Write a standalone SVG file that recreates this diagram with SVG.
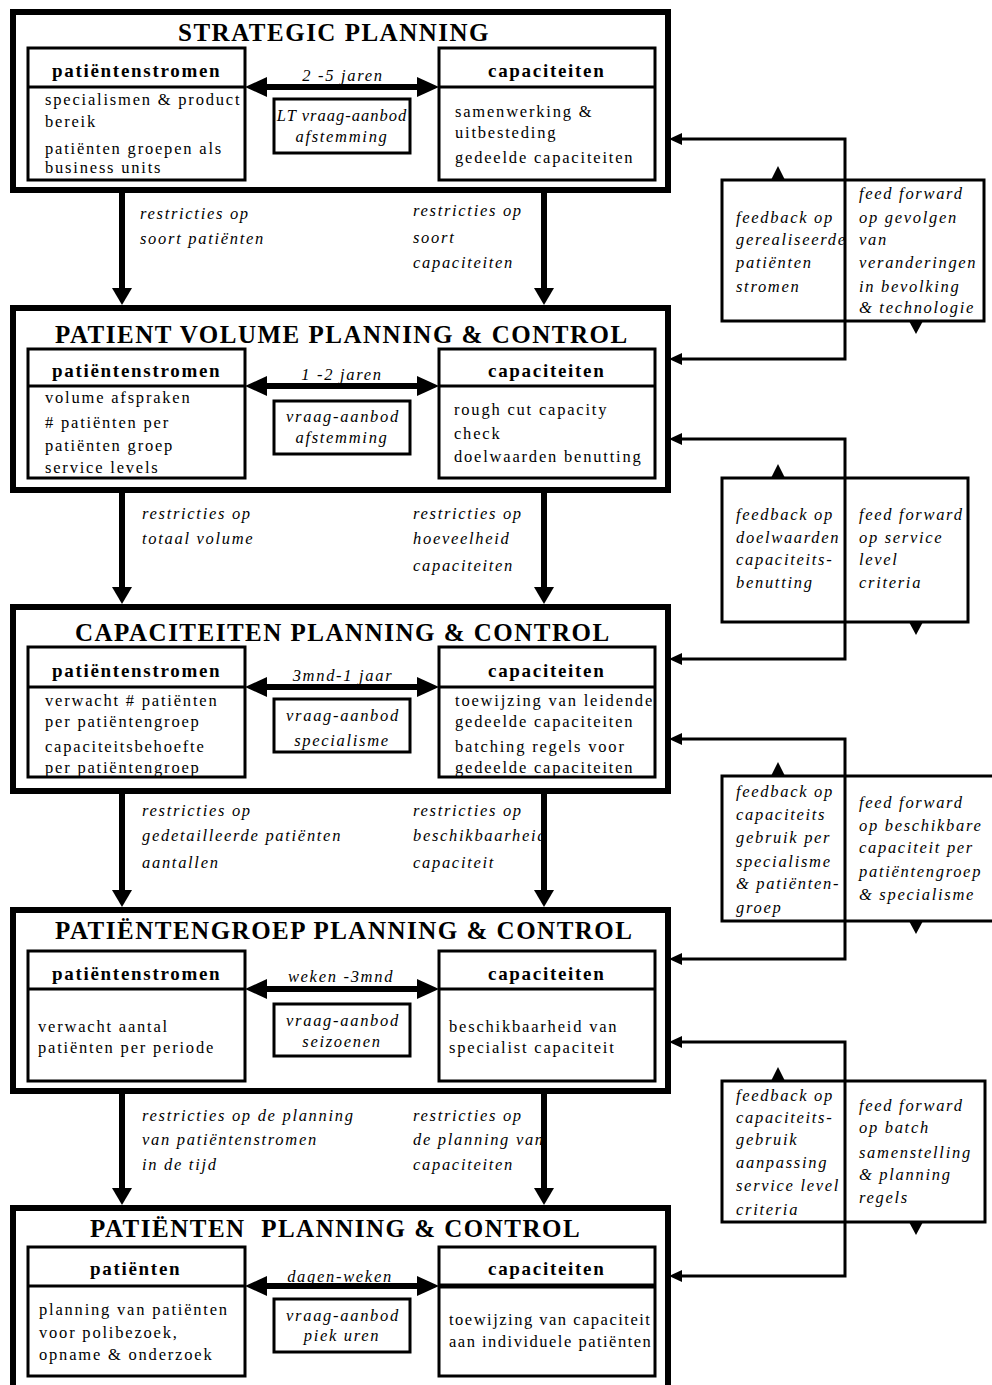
<svg xmlns="http://www.w3.org/2000/svg" xmlns:xlink="http://www.w3.org/1999/xlink" width="992" height="1385" viewBox="0 0 992 1385">
  <style>
    text { font-family: "Liberation Serif", "Times New Roman", serif; fill: #000; }
    .title { font-size: 25px; font-weight: bold; letter-spacing: 1.5px; }
    .head { font-size: 19px; font-weight: bold; letter-spacing: 1.7px; }
    .body { font-size: 16.5px; letter-spacing: 1.8px; }
    .ital { font-size: 16.5px; font-style: italic; letter-spacing: 1.7px; }
    .mid { text-anchor: middle; }
    .outer { fill: none; stroke: #000; stroke-width: 6; }
    .inner { fill: #fff; stroke: #000; stroke-width: 3; }
    .rule { stroke: #000; stroke-width: 3; }
    .center { fill: #fff; stroke: #000; stroke-width: 3; }
    .span { stroke: #000; stroke-width: 6; fill: none; marker-start: url(#bigHead); marker-end: url(#bigHead); }
    .down { stroke: #000; stroke-width: 6; fill: none; marker-end: url(#downHead); }
    .loop { stroke: #000; stroke-width: 3; fill: none; marker-start: url(#loopHead); marker-end: url(#loopHead); }
    .fbox { fill: none; stroke: #000; stroke-width: 3; }
  </style>
  <defs>
    <marker id="bigHead" markerUnits="userSpaceOnUse" viewBox="0 0 22 20" refX="10" refY="10" markerWidth="22" markerHeight="20" orient="auto-start-reverse">
      <path d="M0,0 L22,10 L0,20 Z" fill="#000"/>
    </marker>
    <marker id="downHead" markerUnits="userSpaceOnUse" viewBox="0 0 17 20" refX="7" refY="10" markerWidth="17" markerHeight="20" orient="auto">
      <path d="M0,0 L17,10 L0,20 Z" fill="#000"/>
    </marker>
    <marker id="loopHead" markerUnits="userSpaceOnUse" viewBox="0 0 13 12" refX="5" refY="6" markerWidth="13" markerHeight="12" orient="auto-start-reverse">
      <path d="M0,0 L13,6 L0,12 Z" fill="#000"/>
    </marker>
    <path id="triUp" d="M-7,0 L0,-14 L7,0 Z" fill="#000"/>
    <path id="triDown" d="M-7,0 L0,13 L7,0 Z" fill="#000"/>
  </defs>

  <rect width="992" height="1385" fill="#fff"/>

  <!-- Level 1: strategic planning -->
  <g id="strategic-planning">
    <rect class="outer" x="13" y="12" width="655" height="178"/>
    <text class="title" x="178" y="41">STRATEGIC PLANNING</text>
    <rect class="inner" x="28" y="48" width="217" height="132"/>
    <line class="rule" x1="28" y1="87" x2="245" y2="87"/>
    <text class="head" x="52" y="77">patiëntenstromen</text>
    <text class="body" x="45" y="105">specialismen &amp; product</text>
    <text class="body" x="45" y="127">bereik</text>
    <text class="body" x="45" y="154">patiënten groepen als</text>
    <text class="body" x="45" y="173">business units</text>
    <rect class="inner" x="439" y="48" width="216" height="132"/>
    <line class="rule" x1="439" y1="87" x2="655" y2="87"/>
    <text class="head" x="488" y="77">capaciteiten</text>
    <text class="body" x="455" y="117">samenwerking &amp;</text>
    <text class="body" x="455" y="138">uitbesteding</text>
    <text class="body" x="455" y="163">gedeelde capaciteiten</text>
    <text class="ital mid" x="343" y="81">2 -5 jaren</text>
    <rect class="center" x="274" y="99" width="136" height="54"/>
    <text class="ital mid" x="342" y="121" style="letter-spacing:1px">LT vraag-aanbod</text>
    <text class="ital mid" x="342" y="142">afstemming</text>
  </g>

  <!-- Level 2: patient volume planning -->
  <g id="patient-volume-planning">
    <rect class="outer" x="13" y="308" width="655" height="182"/>
    <text class="title" x="55" y="343">PATIENT VOLUME PLANNING &amp; CONTROL</text>
    <rect class="inner" x="28" y="349" width="217" height="129"/>
    <line class="rule" x1="28" y1="386" x2="245" y2="386"/>
    <text class="head" x="52" y="377">patiëntenstromen</text>
    <text class="body" x="45" y="403">volume afspraken</text>
    <text class="body" x="45" y="428"># patiënten per</text>
    <text class="body" x="45" y="451">patiënten groep</text>
    <text class="body" x="45" y="473">service levels</text>
    <rect class="inner" x="439" y="349" width="216" height="129"/>
    <line class="rule" x1="439" y1="386" x2="655" y2="386"/>
    <text class="head" x="488" y="377">capaciteiten</text>
    <text class="body" x="454" y="415">rough cut capacity</text>
    <text class="body" x="454" y="439">check</text>
    <text class="body" x="454" y="462">doelwaarden benutting</text>
    <text class="ital mid" x="342" y="380">1 -2 jaren</text>
    <rect class="center" x="274" y="401" width="136" height="53"/>
    <text class="ital mid" x="343" y="422">vraag-aanbod</text>
    <text class="ital mid" x="342" y="443">afstemming</text>
  </g>

  <!-- Level 3: capacity planning -->
  <g id="capaciteiten-planning">
    <rect class="outer" x="13" y="607" width="655" height="184"/>
    <text class="title" x="75" y="641">CAPACITEITEN PLANNING &amp; CONTROL</text>
    <rect class="inner" x="28" y="647" width="217" height="130"/>
    <line class="rule" x1="28" y1="687" x2="245" y2="687"/>
    <text class="head" x="52" y="677">patiëntenstromen</text>
    <text class="body" x="45" y="706">verwacht # patiënten</text>
    <text class="body" x="45" y="727">per patiëntengroep</text>
    <text class="body" x="45" y="752">capaciteitsbehoefte</text>
    <text class="body" x="45" y="773">per patiëntengroep</text>
    <rect class="inner" x="439" y="647" width="216" height="130"/>
    <line class="rule" x1="439" y1="687" x2="655" y2="687"/>
    <text class="head" x="488" y="677">capaciteiten</text>
    <text class="body" x="455" y="706">toewijzing van leidende</text>
    <text class="body" x="455" y="727">gedeelde capaciteiten</text>
    <text class="body" x="455" y="752">batching regels voor</text>
    <text class="body" x="455" y="773">gedeelde capaciteiten</text>
    <text class="ital mid" x="343" y="681">3mnd-1 jaar</text>
    <rect class="center" x="274" y="699" width="136" height="53"/>
    <text class="ital mid" x="343" y="721">vraag-aanbod</text>
    <text class="ital mid" x="342" y="746">specialisme</text>
  </g>

  <!-- Level 4: patient group planning -->
  <g id="patientengroep-planning">
    <rect class="outer" x="13" y="910" width="655" height="181"/>
    <text class="title" x="55" y="939">PATIËNTENGROEP PLANNING &amp; CONTROL</text>
    <rect class="inner" x="28" y="951" width="217" height="130"/>
    <line class="rule" x1="28" y1="989" x2="245" y2="989"/>
    <text class="head" x="52" y="980">patiëntenstromen</text>
    <text class="body" x="38" y="1032">verwacht aantal</text>
    <text class="body" x="38" y="1053">patiënten per periode</text>
    <rect class="inner" x="439" y="951" width="216" height="130"/>
    <line class="rule" x1="439" y1="989" x2="655" y2="989"/>
    <text class="head" x="488" y="980">capaciteiten</text>
    <text class="body" x="449" y="1032">beschikbaarheid van</text>
    <text class="body" x="449" y="1053">specialist capaciteit</text>
    <text class="ital mid" x="341" y="982">weken -3mnd</text>
    <rect class="center" x="274" y="1004" width="136" height="52"/>
    <text class="ital mid" x="343" y="1026">vraag-aanbod</text>
    <text class="ital mid" x="342" y="1047">seizoenen</text>
  </g>

  <!-- Level 5: patient planning -->
  <g id="patienten-planning">
    <rect class="outer" x="13" y="1208" width="655" height="200"/>
    <text class="title" x="90" y="1237">PATIËNTEN&#160; PLANNING &amp; CONTROL</text>
    <rect class="inner" x="28" y="1247" width="217" height="129"/>
    <line class="rule" x1="28" y1="1286" x2="245" y2="1286"/>
    <text class="head" x="90" y="1275">patiënten</text>
    <text class="body" x="39" y="1315">planning van patiënten</text>
    <text class="body" x="39" y="1338">voor polibezoek,</text>
    <text class="body" x="39" y="1360">opname &amp; onderzoek</text>
    <rect class="inner" x="439" y="1247" width="216" height="129"/>
    <line x1="439" y1="1286" x2="655" y2="1286" stroke="#000" stroke-width="5"/>
    <text class="head" x="488" y="1275">capaciteiten</text>
    <text class="body" x="449" y="1325" style="letter-spacing:1.5px">toewijzing van capaciteit</text>
    <text class="body" x="449" y="1347" style="letter-spacing:1.5px">aan individuele patiënten</text>
    <text class="ital mid" x="340" y="1282">dagen-weken</text>
    <rect class="center" x="274" y="1299" width="136" height="53"/>
    <text class="ital mid" x="343" y="1321">vraag-aanbod</text>
    <text class="ital mid" x="342" y="1341">piek uren</text>
  </g>

  <!-- Labels on the restriction arrows between levels -->
  <g id="restriction-labels" class="ital">
    <text x="140" y="219">restricties op</text>
    <text x="140" y="244">soort patiënten</text>
    <text x="413" y="216">restricties op</text>
    <text x="413" y="243">soort</text>
    <text x="413" y="268">capaciteiten</text>

    <text x="142" y="519">restricties op</text>
    <text x="142" y="544">totaal volume</text>
    <text x="413" y="519">restricties op</text>
    <text x="413" y="544">hoeveelheid</text>
    <text x="413" y="571">capaciteiten</text>

    <text x="142" y="816">restricties op</text>
    <text x="142" y="841">gedetailleerde patiënten</text>
    <text x="142" y="868">aantallen</text>
    <text x="413" y="816">restricties op</text>
    <text x="413" y="841">beschikbaarheid</text>
    <text x="413" y="868">capaciteit</text>

    <text x="142" y="1121">restricties op de planning</text>
    <text x="142" y="1145">van patiëntenstromen</text>
    <text x="142" y="1170">in de tijd</text>
    <text x="413" y="1121">restricties op</text>
    <text x="413" y="1145">de planning van</text>
    <text x="413" y="1170">capaciteiten</text>
  </g>

  <!-- Feedback / feed forward boxes -->
  <g id="feedback-1">
    <rect class="fbox" x="722" y="180" width="262" height="141"/>
    <use xlink:href="#triUp" x="778" y="180"/>
    <use xlink:href="#triDown" x="916" y="321"/>
    <g class="ital">
      <text x="736" y="223">feedback op</text>
      <text x="736" y="245">gerealiseerde</text>
      <text x="736" y="268">patiënten</text>
      <text x="736" y="292">stromen</text>
      <text x="859" y="199">feed forward</text>
      <text x="859" y="223">op gevolgen</text>
      <text x="859" y="245">van</text>
      <text x="859" y="268">veranderingen</text>
      <text x="859" y="292">in bevolking</text>
      <text x="859" y="313">&amp; technologie</text>
    </g>
  </g>
  <g id="feedback-2">
    <rect class="fbox" x="722" y="478" width="246" height="144"/>
    <use xlink:href="#triUp" x="778" y="478"/>
    <use xlink:href="#triDown" x="916" y="622"/>
    <g class="ital">
      <text x="736" y="520">feedback op</text>
      <text x="736" y="543">doelwaarden</text>
      <text x="736" y="565">capaciteits-</text>
      <text x="736" y="588">benutting</text>
      <text x="859" y="520">feed forward</text>
      <text x="859" y="543">op service</text>
      <text x="859" y="565">level</text>
      <text x="859" y="588">criteria</text>
    </g>
  </g>
  <g id="feedback-3">
    <rect class="fbox" x="722" y="776" width="290" height="145"/>
    <use xlink:href="#triUp" x="778" y="776"/>
    <use xlink:href="#triDown" x="916" y="921"/>
    <g class="ital">
      <text x="736" y="797">feedback op</text>
      <text x="736" y="820">capaciteits</text>
      <text x="736" y="843">gebruik per</text>
      <text x="736" y="867">specialisme</text>
      <text x="736" y="889">&amp; patiënten-</text>
      <text x="736" y="913">groep</text>
      <text x="859" y="808">feed forward</text>
      <text x="859" y="831">op beschikbare</text>
      <text x="859" y="853">capaciteit per</text>
      <text x="859" y="877">patiëntengroep</text>
      <text x="859" y="900">&amp; specialisme</text>
    </g>
  </g>
  <g id="feedback-4">
    <rect class="fbox" x="722" y="1081" width="263" height="141"/>
    <use xlink:href="#triUp" x="778" y="1081"/>
    <use xlink:href="#triDown" x="916" y="1222"/>
    <g class="ital">
      <text x="736" y="1101">feedback op</text>
      <text x="736" y="1123">capaciteits-</text>
      <text x="736" y="1145">gebruik</text>
      <text x="736" y="1168">aanpassing</text>
      <text x="736" y="1191">service level</text>
      <text x="736" y="1215">criteria</text>
      <text x="859" y="1111">feed forward</text>
      <text x="859" y="1133">op batch</text>
      <text x="859" y="1158">samenstelling</text>
      <text x="859" y="1180">&amp; planning</text>
      <text x="859" y="1203">regels</text>
    </g>
  </g>

  <!-- Connectors -->
  <g id="connectors">
    <!-- horizon arrows between demand and capacity -->
    <line class="span" x1="257" y1="87" x2="427" y2="87"/>
    <line class="span" x1="257" y1="386" x2="427" y2="386"/>
    <line class="span" x1="257" y1="687" x2="427" y2="687"/>
    <line class="span" x1="257" y1="989" x2="427" y2="989"/>
    <line class="span" x1="257" y1="1286" x2="427" y2="1286"/>
    <!-- restrictions passed down to the next level -->
    <line class="down" x1="122" y1="190" x2="122" y2="295"/>
    <line class="down" x1="544" y1="190" x2="544" y2="295"/>
    <line class="down" x1="122" y1="490" x2="122" y2="594"/>
    <line class="down" x1="544" y1="490" x2="544" y2="594"/>
    <line class="down" x1="122" y1="791" x2="122" y2="897"/>
    <line class="down" x1="544" y1="791" x2="544" y2="897"/>
    <line class="down" x1="122" y1="1091" x2="122" y2="1195"/>
    <line class="down" x1="544" y1="1091" x2="544" y2="1195"/>
    <!-- feedback / feed forward loops -->
    <path class="loop" d="M677,139 H845 V359 H677"/>
    <path class="loop" d="M677,439 H845 V659 H677"/>
    <path class="loop" d="M677,739 H845 V959 H677"/>
    <path class="loop" d="M677,1042 H845 V1276 H677"/>
  </g>
</svg>
